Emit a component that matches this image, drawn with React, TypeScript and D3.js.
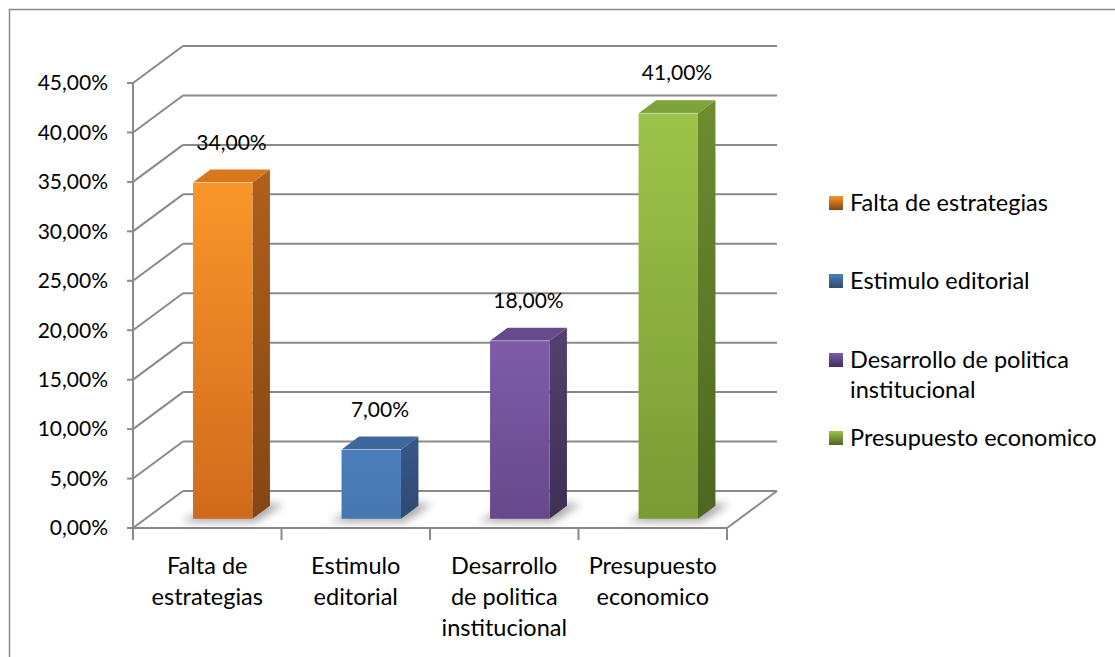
import * as d3 from 'd3';

const categories = ['Falta de estrategias', 'Estimulo editorial', 'Desarrollo de politica institucional', 'Presupuesto economico'];
const values = [34, 7, 18, 41];
const valueLabels = ['34,00%', '7,00%', '18,00%', '41,00%'];
const axisLines = [['Falta de', 'estrategias'], ['Estimulo', 'editorial'], ['Desarrollo', 'de politica', 'institucional'], ['Presupuesto', 'economico']];
const legendLines = [['Falta de estrategias'], ['Estimulo editorial'], ['Desarrollo de politica', 'institucional'], ['Presupuesto economico']];
const yTicks = [0, 5, 10, 15, 20, 25, 30, 35, 40, 45];

// face colours: [front top, front bottom, side top, side bottom, top]
const palette = [
  ['#f9962a', '#d06a1c', '#b0601b', '#854512', '#d9771e'],
  ['#4a7ebb', '#4777b1', '#38588a', '#2f4a72', '#3e679c'],
  ['#7e5ca9', '#66498c', '#54406f', '#3e2f55', '#664b8c'],
  ['#9cc34a', '#7a9a34', '#6d8d2f', '#4b6720', '#7ea33b'],
];

const FONT = 'Lato, "Open Sans", sans-serif';

export default function App() {
  const x0 = 133, x1 = 727;
  const depthX = 50, depthY = -37;
  const x = d3.scaleBand<string>().domain(categories).range([x0, x1]);
  const y = d3.scaleLinear().domain([0, 45]).range([528, 83]);
  const fmt = (v: number) => d3.format('.2f')(v).replace('.', ',') + '%';

  const bw = x.bandwidth() * 0.4;
  const fA = 0.25, fB = 0.6;
  const grid = '#8a8a8a';

  return (
    <svg width={1115} height={657} style={{ position: 'absolute', left: 0, top: 0, background: '#fff' }} fontFamily={FONT}>
      <defs>
        {palette.map((c, i) => (
          <g key={i}>
            <linearGradient id={`fr${i}`} x1="0" y1="0" x2="0" y2="1">
              <stop offset="0" stopColor={c[0]} />
              <stop offset="1" stopColor={c[1]} />
            </linearGradient>
            <linearGradient id={`sd${i}`} x1="0" y1="0" x2="0" y2="1">
              <stop offset="0" stopColor={c[2]} />
              <stop offset="1" stopColor={c[3]} />
            </linearGradient>
            <linearGradient id={`lg${i}`} x1="0" y1="0" x2="0" y2="1">
              <stop offset="0" stopColor={c[0]} />
              <stop offset="1" stopColor={c[3]} />
            </linearGradient>
          </g>
        ))}
        <filter id="blur" x="-50%" y="-50%" width="200%" height="200%">
          <feGaussianBlur stdDeviation="4" />
        </filter>
      </defs>
      <rect x={9.5} y={9.5} width={1120} height={660} fill="#fff" stroke="#8c8c8c" strokeWidth={1.5} />

      {/* walls */}
      {yTicks.map(t => (
        <g key={t} stroke={grid} strokeWidth={2} fill="none">
          <line x1={x0} y1={y(t)} x2={x0 + depthX} y2={y(t) + depthY} />
          <line x1={x0 + depthX} y1={y(t) + depthY} x2={x1 + depthX} y2={y(t) + depthY} />
          <line x1={x0 - 6} y1={y(t)} x2={x0} y2={y(t)} />
        </g>
      ))}
      {/* floor */}
      <g stroke={grid} strokeWidth={2} fill="none">
        <line x1={x0} y1={y(0)} x2={x1} y2={y(0)} />
        <line x1={x1} y1={y(0)} x2={x1 + depthX} y2={y(0) + depthY} />
        <line x1={x0} y1={y(45)} x2={x0} y2={y(0)} />
        {[...categories.map(c => x(c) as number), x1].map((t, i) => (
          <line key={i} x1={t} y1={y(0)} x2={t} y2={y(0) + 12} />
        ))}
      </g>

      {/* y tick labels */}
      {yTicks.map(t => (
        <text key={t} x={108} y={y(t)} dy="0.35em" textAnchor="end" fontSize={21} fill="#000">{fmt(t)}</text>
      ))}

      {/* bars */}
      {categories.map((c, i) => {
        const cx = (x(c) as number) + x.bandwidth() / 2 + 3;
        const ax = depthX * fA, ay = depthY * fA;
        const bx = depthX * fB, by = depthY * fB;
        const l = cx - bw / 2 + ax, r = cx + bw / 2 + ax;
        const yb = y(0) + ay, yt = y(values[i]) + ay;
        const dx = bx - ax, dy = by - ay;
        const top = `M${l},${yt} L${l + dx},${yt + dy} L${r + dx},${yt + dy} L${r},${yt} Z`;
        const side = `M${r},${yt} L${r + dx},${yt + dy} L${r + dx},${yb + dy} L${r},${yb} Z`;
        const shadow = `M${l - 12},${yb + 3} L${l + dx + 6},${yb + dy - 2} L${r + dx + 14},${yb + dy - 2} L${r + 4},${yb + 3} Z`;
        return (
          <g key={c}>
            <path d={shadow} fill="#000" opacity={0.35} filter="url(#blur)" />
            <path d={side} fill={`url(#sd${i})`} />
            <path d={top} fill={palette[i][4]} />
            <rect x={l} y={yt} width={bw} height={yb - yt} fill={`url(#fr${i})`} />
            <line x1={l} y1={yt} x2={r} y2={yt} stroke="#fff" strokeOpacity={0.35} />
            <text x={cx + (ax + bx) / 2} y={y(values[i]) + by - 20} textAnchor="middle" fontSize={21} fill="#000">{valueLabels[i]}</text>
          </g>
        );
      })}

      {/* category labels */}
      {categories.map((c, i) => (
        <text key={c} x={(x(c) as number) + x.bandwidth() / 2} y={574} textAnchor="middle" fontSize={23.5} fill="#000">
          {axisLines[i].map((s, k) => (
            <tspan key={k} x={(x(c) as number) + x.bandwidth() / 2} dy={k === 0 ? 0 : 31}>{s}</tspan>
          ))}
        </text>
      ))}

      {/* legend */}
      {categories.map((c, i) => {
        const ly = [203, 281, 360, 438][i];
        return (
          <g key={c}>
            <rect x={829} y={ly - 7} width={14} height={14} fill={`url(#lg${i})`} />
            <text x={850} y={ly} fontSize={23.5} fill="#000">
              {legendLines[i].map((s, k) => (
                <tspan key={k} x={850} dy={k === 0 ? '0.35em' : 30}>{s}</tspan>
              ))}
            </text>
          </g>
        );
      })}
    </svg>
  );
}
